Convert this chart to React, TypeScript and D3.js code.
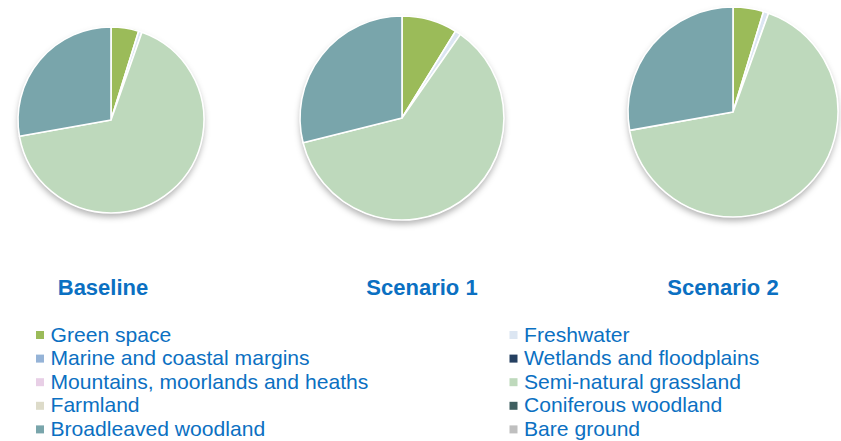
import React from 'react';
import * as d3 from 'd3';

const categories = [
  'Green space',
  'Freshwater',
  'Marine and coastal margins',
  'Wetlands and floodplains',
  'Mountains, moorlands and heaths',
  'Semi-natural grassland',
  'Farmland',
  'Coniferous woodland',
  'Broadleaved woodland',
  'Bare ground',
];

const colors = [
  '#9BBB59', '#DCE6F2', '#95B3D7', '#254061', '#E8CFE6',
  '#BED9BC', '#DDDBC9', '#3F5F60', '#79A5AB', '#BFBFBF',
];

const scenarios = ['Baseline', 'Scenario 1', 'Scenario 2'];

// percentage share of each habitat, same order as categories
const baseline = [4.8, 0.6, 0, 0, 0, 66.8, 0, 0, 27.8, 0];
const scenario1 = [8.8, 0.9, 0, 0, 0, 61.4, 0, 0, 28.9, 0];
const scenario2 = [4.7, 0.8, 0, 0, 0, 66.7, 0, 0, 27.8, 0];

const seriesValues = [baseline, scenario1, scenario2];

// pie centres / radii
const pieLayout = [
  { cx: 111, cy: 120, r: 93 },
  { cx: 402, cy: 118, r: 102 },
  { cx: 733, cy: 112, r: 105 },
];
const titleX = [103, 422, 723];

const blue = '#0B70C2';

const App = () => {
  const pie = d3.pie<number>().sort(null).value((d) => d);

  return (
    <svg width={841} height={441} style={{ position: 'absolute', left: 0, top: 0 }}>
      <defs>
        <filter id="shadow" x="-20%" y="-20%" width="140%" height="140%">
          <feDropShadow dx="0" dy="4" stdDeviation="3" floodColor="#000" floodOpacity="0.3" />
        </filter>
      </defs>
      <rect width={841} height={441} fill="#fff" />
      {seriesValues.map((vals, i) => {
        const { cx, cy, r } = pieLayout[i];
        const arc = d3.arc<d3.PieArcDatum<number>>().innerRadius(0).outerRadius(r);
        const arcs = pie(vals);
        return (
          <g key={scenarios[i]} transform={`translate(${cx},${cy})`}>
            <circle r={r} fill="#fff" filter="url(#shadow)" />
            {arcs.map((a, j) =>
              a.value > 0 ? (
                <path
                  key={categories[j]}
                  d={arc(a) || ''}
                  fill={colors[j]}
                  stroke="#fff"
                  strokeWidth={1.6}
                  strokeLinejoin="round"
                />
              ) : null
            )}
          </g>
        );
      })}
      {scenarios.map((s, i) => (
        <text
          key={s}
          x={titleX[i]}
          y={295}
          textAnchor="middle"
          fontFamily="'Liberation Sans', Arial, sans-serif"
          fontWeight="bold"
          fontSize={22}
          fill={blue}
        >
          {s}
        </text>
      ))}
      {categories.map((c, k) => {
        // legend fills row by row, two columns
        const col = k % 2;
        const row = Math.floor(k / 2);
        const x = col === 0 ? 36 : 509.5;
        const y = 341.5 + row * 23.6;
        return (
          <g key={c}>
            <rect x={x} y={y - 10.5} width={8} height={8} fill={colors[k]} />
            <text
              x={x + 14.5}
              y={y}
              fontFamily="'Liberation Sans', Arial, sans-serif"
              fontSize={21.1}
              fill={blue}
            >
              {c}
            </text>
          </g>
        );
      })}
    </svg>
  );
};

export default App;
